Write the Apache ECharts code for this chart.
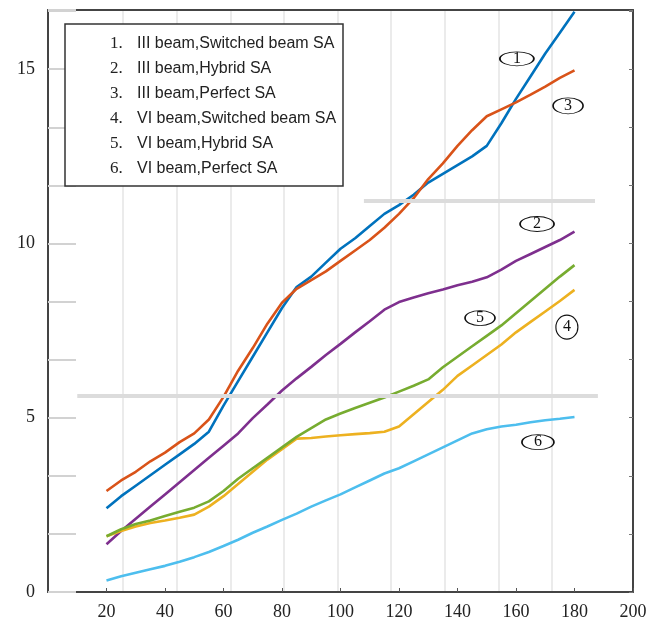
<!DOCTYPE html>
<html><head><meta charset="utf-8">
<script src="https://cdn.jsdelivr.net/npm/echarts@6/dist/echarts.min.js"></script>
<style>html,body{margin:0;padding:0;background:#fff}#c{width:658px;height:625px}</style>
</head><body><div id="c"></div>
<script>
// ---- data ----
const xValues = [20,25,30,35,40,45,50,55,60,65,70,75,80,85,90,95,100,105,110,115,120,125,130,135,140,145,150,155,160,165,170,175,180];
const legendNames = [
  'III beam,Switched beam SA',
  'III beam,Hybrid SA',
  'III beam,Perfect SA',
  'VI beam,Switched beam SA',
  'VI beam,Hybrid SA',
  'VI beam,Perfect SA'
];
const legendNumbers = ['1.','2.','3.','4.','5.','6.'];
const s1IIISwitched = [2.40,2.75,3.05,3.35,3.65,3.95,4.25,4.60,5.35,6.05,6.75,7.45,8.15,8.75,9.05,9.45,9.85,10.15,10.50,10.85,11.10,11.40,11.75,12.00,12.25,12.50,12.80,13.45,14.15,14.80,15.45,16.05,16.65];
const s2IIIHybrid   = [1.37,1.75,2.10,2.45,2.80,3.15,3.50,3.85,4.20,4.55,4.99,5.38,5.78,6.13,6.46,6.80,7.12,7.45,7.77,8.10,8.32,8.45,8.57,8.68,8.80,8.90,9.03,9.25,9.50,9.70,9.90,10.10,10.34];
const s3IIIPerfect  = [2.90,3.20,3.45,3.75,4.00,4.30,4.55,4.95,5.60,6.35,7.00,7.70,8.30,8.70,8.95,9.20,9.50,9.80,10.10,10.45,10.85,11.30,11.85,12.30,12.80,13.25,13.65,13.85,14.05,14.27,14.50,14.75,14.97];
const s4VISwitched  = [1.60,1.75,1.88,1.98,2.05,2.13,2.22,2.45,2.75,3.10,3.45,3.80,4.10,4.40,4.42,4.46,4.50,4.53,4.56,4.60,4.75,5.10,5.45,5.80,6.20,6.50,6.80,7.10,7.45,7.75,8.05,8.35,8.67];
const s5VIHybrid    = [1.60,1.80,1.95,2.05,2.18,2.30,2.42,2.60,2.90,3.25,3.55,3.85,4.15,4.45,4.70,4.95,5.12,5.28,5.43,5.58,5.75,5.92,6.10,6.45,6.75,7.05,7.35,7.65,8.00,8.35,8.70,9.05,9.38];
const s6VIPerfect   = [0.33,0.45,0.55,0.65,0.75,0.87,1.00,1.15,1.32,1.50,1.70,1.88,2.07,2.25,2.45,2.63,2.80,3.00,3.20,3.40,3.55,3.75,3.95,4.15,4.35,4.55,4.67,4.75,4.80,4.87,4.93,4.97,5.02];
const xTickLabels = ['20','40','60','80','100','120','140','160','180','200'];
const yTickLabels = ['0','5','10','15'];
const curveTags = ['1','2','3','4','5','6'];
const curveTagX = [160.3,167.2,177.8,177.4,147.7,167.5];
const curveTagY = [15.3,10.56,13.95,7.6,7.86,4.3];
const scanLineY = [5.62, 11.22];
const scanLineFrom = [10, 108];
const scanLineTo = [188, 187];

// ---- chart ----
const seriesData = [s1IIISwitched, s2IIIHybrid, s3IIIPerfect, s4VISwitched, s5VIHybrid, s6VIPerfect];
const colors = ['#0072BD','#7E2F8E','#D95319','#EDB120','#77AC30','#4DBEEE'];
const tagSizes = [[34,14],[34,15],[30,16],[22,24],[30,15],[32,15]];
const SERIF = "'Liberation Serif','DejaVu Serif',serif";
const NARROW = "'Liberation Sans Narrow','Liberation Sans',Arial,sans-serif";
const ellipse = 'path://M0,10A20,10,0,1,1,40,10A20,10,0,1,1,0,10Z';

const series = seriesData.map((d, i) => {
  const s = {
    name: legendNames[i],
    type: 'line',
    xAxisIndex: 0, yAxisIndex: 0,
    data: xValues.map((x, k) => [x, d[k]]),
    symbol: 'none',
    lineStyle: { width: 2.6, color: colors[i] },
    itemStyle: { color: colors[i] },
    emphasis: { disabled: true },
    markPoint: {
      silent: true,
      symbol: ellipse,
      symbolSize: tagSizes[i],
      itemStyle: { color: 'rgba(0,0,0,0)', borderColor: '#111', borderWidth: 1.2 },
      label: { show: true, position: 'inside', color: '#111', fontFamily: SERIF, fontSize: 16,
               formatter: p => p.value },
      data: [{ coord: [curveTagX[i], curveTagY[i]], value: curveTags[i] }]
    }
  };
  if (i === 0) {
    s.markLine = {
      silent: true, symbol: 'none', label: { show: false },
      lineStyle: { color: '#dcdcdc', width: 4, type: 'solid' },
      data: scanLineY.map((y, j) => [{ coord: [scanLineFrom[j], y] }, { coord: [scanLineTo[j], y] }])
    };
  }
  return s;
});

const chart = echarts.init(document.getElementById('c'), null, { renderer: 'canvas' });
chart.setOption({
  animation: false,
  backgroundColor: '#fff',
  grid: [
    { left: 48, right: 25, top: 10, bottom: 33 },
    { left: 123, right: 106, top: 10, bottom: 33 }
  ],
  legend: {
    orient: 'vertical', left: 65, top: 24,
    data: legendNames,
    icon: 'rect', itemWidth: 0, itemHeight: 0, itemGap: 8,
    padding: [11, 6, 9, 40],
    borderColor: '#333', borderWidth: 1.5, backgroundColor: '#fff',
    selectedMode: false,
    formatter: name => '{n|' + legendNumbers[legendNames.indexOf(name)] + '}{t|' + name + '}',
    textStyle: {
      color: '#222',
      rich: {
        n: { fontFamily: SERIF, fontSize: 17, width: 27, lineHeight: 20, color: '#222' },
        t: { fontFamily: NARROW, fontSize: 16, width: 200, lineHeight: 20, color: '#222' }
      }
    }
  },
  xAxis: [
    { type: 'value', gridIndex: 0, position: 'bottom', min: 0, max: 200, interval: 20,
      axisLine: { show: true, lineStyle: { color: '#444', width: 2 } },
      axisTick: { show: true, inside: true, length: 4, lineStyle: { color: '#555' } },
      axisLabel: { showMinLabel: false, margin: 11, color: '#222', fontFamily: SERIF, fontSize: 18,
                   formatter: v => xTickLabels.includes(String(v)) ? String(v) : '' },
      splitLine: { show: false } },
    { type: 'value', gridIndex: 0, position: 'top', min: 0, max: 200, interval: 20,
      axisLine: { show: true, onZero: false, lineStyle: { color: '#444', width: 2 } },
      axisTick: { show: false }, axisLabel: { show: false }, splitLine: { show: false } },
    { type: 'value', gridIndex: 1, min: 0, max: 8, interval: 1,
      axisLine: { show: false }, axisTick: { show: false }, axisLabel: { show: false },
      splitLine: { show: true, lineStyle: { color: '#e4e4e4', width: 1.5 } } }
  ],
  yAxis: [
    { type: 'value', gridIndex: 0, min: 0, max: 16.7, interval: 5,
      axisLine: { show: true, lineStyle: { color: '#444', width: 2 } },
      axisTick: { show: true, inside: true, length: 28, lineStyle: { color: '#d2d2d2', width: 2 } },
      minorTick: { show: true, splitNumber: 3, length: 28, lineStyle: { color: '#d2d2d2', width: 2 } },
      axisLabel: { showMaxLabel: false, margin: 13, color: '#222', fontFamily: SERIF, fontSize: 18,
                   formatter: v => yTickLabels.includes(String(v)) ? String(v) : '' },
      splitLine: { show: false } },
    { type: 'value', gridIndex: 0, position: 'right', min: 0, max: 16.7, interval: 5,
      axisLine: { show: true, onZero: false, lineStyle: { color: '#444', width: 2 } },
      axisTick: { show: true, inside: true, length: 4, lineStyle: { color: '#777' } },
      minorTick: { show: true, splitNumber: 3, length: 4, lineStyle: { color: '#777' } },
      axisLabel: { show: false }, splitLine: { show: false } },
    { type: 'value', gridIndex: 1, min: 0, max: 16.7, show: false, splitLine: { show: false } }
  ],
  series: series
});
</script>
</body></html>
